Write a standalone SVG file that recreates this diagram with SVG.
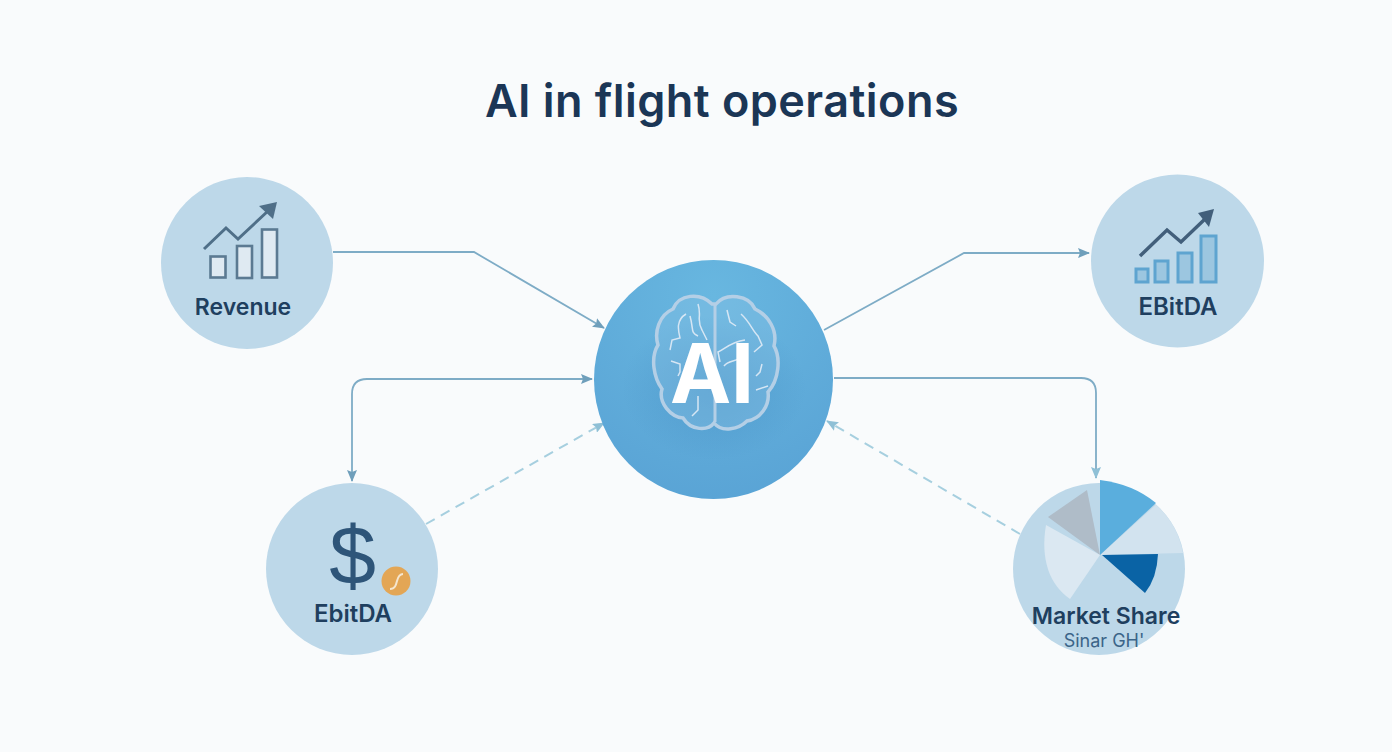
<svg xmlns="http://www.w3.org/2000/svg" width="1392" height="752" viewBox="0 0 1392 752">
<style>
.n{fill:#bdd8e9}
.t{font-family:"Inter","Liberation Sans",sans-serif;font-weight:600;fill:#1f3f5f;text-anchor:middle}
.c{fill:none;stroke:#7eacc6;stroke-width:1.8}
.d{fill:none;stroke:#a6cfdf;stroke-width:2;stroke-dasharray:10 7}
.b{fill:#dfeaf2;stroke:#5b7a92;stroke-width:2.6}
.g{fill:#9cc6e0;stroke:#5ea4d0;stroke-width:3}
.v{fill:none;stroke:#d6e6f4;stroke-width:1.5}
</style>
<defs>
<radialGradient id="cg" cx="0.5" cy="0.15" r="0.9"><stop offset="0" stop-color="#68b7e0"/><stop offset="1" stop-color="#59a3d5"/></radialGradient>
<radialGradient id="sh" cx="0.5" cy="0.5" r="0.5"><stop offset="0" stop-color="#3f86bd" stop-opacity=".45"/><stop offset="1" stop-color="#3f86bd" stop-opacity="0"/></radialGradient>
<marker id="a" viewBox="0 0 12 10" refX="11" refY="5" markerWidth="12" markerHeight="10" markerUnits="userSpaceOnUse" orient="auto-start-reverse"><path d="M0 0L12 5L0 10L2 5Z" fill="#6f9fbb"/></marker>
<marker id="a2" viewBox="0 0 12 10" refX="11" refY="5" markerWidth="12" markerHeight="10" markerUnits="userSpaceOnUse" orient="auto"><path d="M0 0L12 5L0 10L2 5Z" fill="#8fc0d6"/></marker>
</defs>
<rect width="1392" height="752" fill="#f9fbfc"/>
<text x="722" y="117" font-family="Inter,'Liberation Sans',sans-serif" font-size="45" font-weight="600" letter-spacing=".45" fill="#1b3656" text-anchor="middle">AI in flight operations</text>
<g id="connectors">
<path class="c" d="M333 252H474L604 328" marker-end="url(#a)"/>
<path class="c" d="M824 330L964 253H1089" marker-end="url(#a)"/>
<path class="c" d="M592 379H367Q352 379 352 394V481" marker-start="url(#a)" marker-end="url(#a)"/>
<path class="c" d="M834 378H1081Q1096 378 1096 393V478" marker-end="url(#a2)"/>
<path class="d" d="M426 524L604 423" marker-end="url(#a2)"/>
<path class="d" d="M1020 534L827 421" marker-end="url(#a2)"/>
</g>
<g id="node-ai">
<circle cx="713.5" cy="379.5" r="119.5" fill="url(#cg)"/>
<ellipse cx="714" cy="388" rx="92" ry="72" fill="url(#sh)"/>
<path d="M712 304C700 292 679 294 673 309C659 315 654 332 658 345C650 358 654 378 662 389C658 403 671 417 683 418C691 431 708 431 714 423C722 433 739 429 747 421C760 419 770 406 768 392C779 380 781 358 774 346C778 330 768 315 755 309C749 295 726 292 716 304Z" fill="#8dc3e4" fill-opacity=".35" stroke="#b4cfe6" stroke-width="3.500"/>
<path d="M715 304V422" fill="none" stroke="#b4cfe6" stroke-width="3"/>
<path class="v" d="M698 304C702 316 696 320 702 330L707 340M686 314C676 320 678 330 680 338L672 340L670 350M690 316C694 330 690 332 698 336M671 361L680 364L680 372L678 376M698 396V410L692 416M727 310L730 322L736 326M741 314C750 322 752 330 758 336L762 345L754 352M745 340C730 342 724 350 718 352L720 362M724 366C728 360 735 362 740 358M762 364L760 372L756 376M756 390L768 386"/>
<text x="712" y="403" font-family="Inter,'Liberation Sans',sans-serif" font-size="82" font-weight="700" fill="#fff" text-anchor="middle">AI</text>
</g>
<g id="node-revenue">
<circle class="n" cx="247" cy="263" r="86"/>
<rect class="b" x="210.500" y="256.500" width="15" height="21"/>
<rect class="b" x="237" y="246" width="15" height="32"/>
<rect class="b" x="262" y="229.500" width="15" height="48"/>
<path d="M204 249L226 228L238 239L268 211" fill="none" stroke="#4f6f88" stroke-width="3"/>
<path d="M277 202L273 219L259 206Z" fill="#4f6f88"/>
<text class="t" x="243" y="314.500" font-size="23">Revenue</text>
</g>
<g id="node-ebitda-top">
<circle class="n" cx="1177.500" cy="261" r="86.500"/>
<rect class="g" x="1136" y="269" width="12" height="13"/>
<rect class="g" x="1155" y="261" width="13" height="21"/>
<rect class="g" x="1178" y="253" width="14" height="29"/>
<rect class="g" x="1201" y="236" width="15" height="46"/>
<path d="M1140 256L1167 230L1181 242L1205 219" fill="none" stroke="#425f7b" stroke-width="3.500"/>
<path d="M1214 209L1209 227L1198 213Z" fill="#425f7b"/>
<text class="t" x="1178" y="314.500" font-size="24">EBitDA</text>
</g>
<g id="node-ebitda-left">
<circle class="n" cx="352" cy="569" r="86"/>
<text x="352.500" y="584" font-family="'Liberation Sans',sans-serif" font-size="84" fill="#2e5579" text-anchor="middle">$</text>
<circle cx="396" cy="581" r="14.500" fill="#e3a655"/>
<path d="M390 589C395 589 396 585 397 581C398 577 400 574 403 574" fill="none" stroke="#f5e6cf" stroke-width="2"/>
<text class="t" x="353" y="622" font-size="24">EbitDA</text>
</g>
<g id="node-market">
<circle class="n" cx="1099" cy="569" r="86"/>
<path d="M1100 555L1087 490L1048 517Z" fill="#afbcc8"/>
<path d="M1100 555L1046 525C1040 560 1050 585 1070 599Z" fill="#dbe8f2"/>
<path d="M1100 555L1156 504.600A86 86 0 0 1 1183 553Z" fill="#d2e3ef"/>
<path d="M1100 555V480Q1133 484 1156 503Z" fill="#5aaedd"/>
<path d="M1102 555L1158 554Q1157 578 1145 593Z" fill="#0a63a5"/>
<text class="t" x="1106" y="624" font-size="23" fill="#1f3b5c">Market Share</text>
<text x="1104" y="647" font-family="Inter,'Liberation Sans',sans-serif" font-size="18" fill="#3b6488" text-anchor="middle">Sinar GH'</text>
</g>
</svg>
